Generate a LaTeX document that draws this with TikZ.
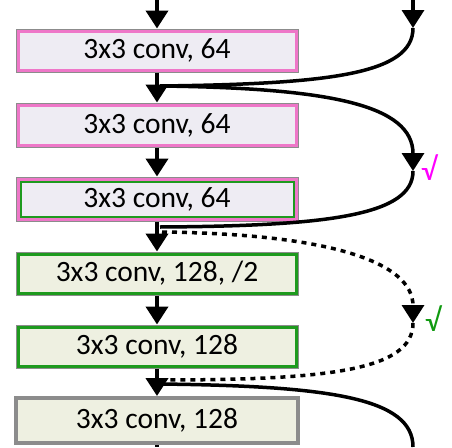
\documentclass[tikz,border=0pt]{standalone}
\usepackage{fontspec}
\setmainfont{Carlito}
\usetikzlibrary{arrows.meta}
\definecolor{pinkb}{HTML}{EE77C8}
\definecolor{greenb}{HTML}{1E9A1E}
\definecolor{lav}{HTML}{EEECF3}
\definecolor{pale}{HTML}{EEF0E1}
\definecolor{grayb}{HTML}{8C8C8C}
\definecolor{chkpink}{HTML}{FF00FF}
\definecolor{chkgreen}{HTML}{109A10}
\begin{document}
\begin{tikzpicture}[x=1pt,y=-1pt,
  conv/.style={minimum width=282pt, minimum height=43pt, inner sep=0pt,
    font=\fontsize{29.5}{32}\selectfont, draw=grayb, line width=1pt},
  lavbox/.style={conv, fill=lav},
  palebox/.style={conv, fill=pale},
  tip/.style={-{Triangle[width=22pt,length=18pt]}},
  flow/.style={line width=4pt, tip},
  skip/.style={line width=3.5pt},
  dashskip/.style={line width=3.5pt, dash pattern=on 5pt off 5pt},
  chk/.style={font=\fontsize{32}{34}\selectfont}
]
\useasboundingbox (0,0) rectangle (452,447);

\node[lavbox] (b1) at (157,50.5) {3x3 conv, 64};
\node[lavbox, minimum height=44pt] (b2) at (157,125) {3x3 conv, 64};
\node[lavbox, minimum height=44pt] (b3) at (157,199) {3x3 conv, 64};
\node[palebox] (b4) at (157,273.5) {3x3 conv, 128, /2};
\node[palebox] (b5) at (157,346.5) {3x3 conv, 128};
\node[palebox, minimum height=45pt, line width=4pt] (b6) at (157,420.5) {3x3 conv, 128};

% inner borders
\draw[pinkb, line width=3pt] ([shift={(2.5,2.5)}]b1.north west) rectangle ([shift={(-2.5,-2.5)}]b1.south east);
\draw[pinkb, line width=3pt] ([shift={(2.5,2.5)}]b2.north west) rectangle ([shift={(-2.5,-2.5)}]b2.south east);
\draw[pinkb, line width=3pt] ([shift={(2.5,2.5)}]b3.north west) rectangle ([shift={(-2.5,-2.5)}]b3.south east);
\draw[greenb, line width=2pt] ([shift={(5,5)}]b3.north west) rectangle ([shift={(-5,-5)}]b3.south east);
\draw[greenb, line width=3pt] ([shift={(2.5,2.5)}]b4.north west) rectangle ([shift={(-2.5,-2.5)}]b4.south east);
\draw[greenb, line width=3pt] ([shift={(2.5,2.5)}]b5.north west) rectangle ([shift={(-2.5,-2.5)}]b5.south east);

% main flow
\coordinate (in) at (157,0);
\coordinate (out) at (157,447);
\draw[flow] (in) -- (b1.north);
\draw[flow] (b1.south) -- (b2.north);
\draw[flow] (b2.south) -- (b3.north);
\draw[flow] (b3.south) -- (b4.north);
\draw[flow] (b4.south) -- (b5.north);
\draw[flow] (b5.south) -- (b6.north);
\draw[line width=4pt] (b6.south) -- (out);

% junctions and skip connections
\coordinate (j1) at (160,86);
\coordinate (j2) at (160,227);
\coordinate (j3) at (162,232);
\coordinate (j4) at (160,380);
\coordinate (j5) at (160,384);
\coordinate (t0) at (413,0);
\coordinate (t1) at (413,28);
\coordinate (a1) at (413,171);
\coordinate (a2) at (413,323);
\coordinate (t2) at (413,447);

\draw[skip, tip] (t0) -- (t1);
\draw[skip] (t1) .. controls (413,74) and (330,84) .. (j1);
\draw[skip, tip] (j1) .. controls (330,88) and (413,105) .. (a1);
\draw[skip] (a1) .. controls (413,215) and (330,226) .. (j2);
\draw[dashskip, tip] (j3) .. controls (330,234) and (413,262) .. (a2);
\draw[dashskip] (a2) .. controls (413,370) and (330,380) .. (j4);
\draw[skip] (j5) .. controls (330,386) and (413,398) .. (t2);

\node[chk, text=chkpink] (c1) at (429,168) {√};
\node[chk, text=chkgreen] (c2) at (433,319) {√};
\end{tikzpicture}
\end{document}
